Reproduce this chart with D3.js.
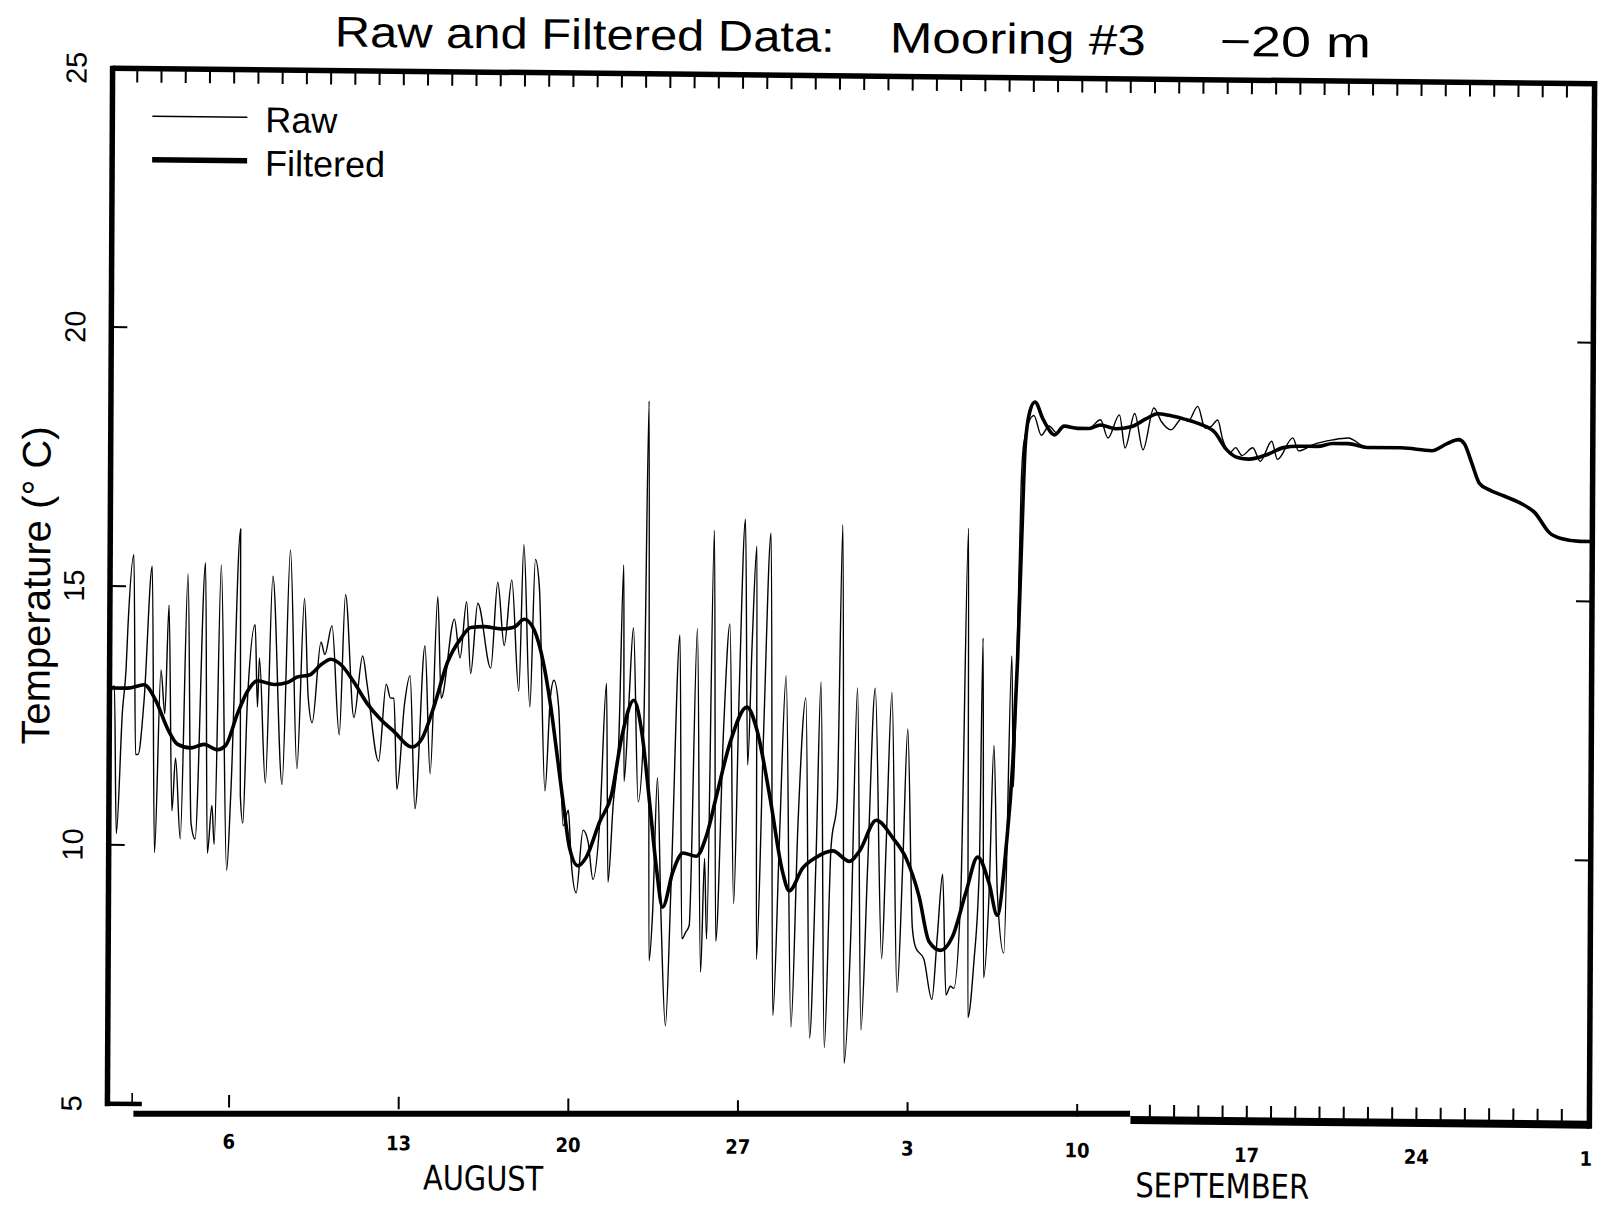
<!DOCTYPE html>
<html>
<head>
<meta charset="utf-8">
<script src="https://cdn.jsdelivr.net/npm/d3@7"></script>
<style>
  html, body { margin: 0; padding: 0; background: #fff; }
  svg { display: block; }
</style>
</head>
<body>
<script>
// ---------------- data ----------------
// day = days after 1 August (00:00), temp = degrees C
const rawDay = [0.0,0.18,0.29,0.52,0.66,0.73,0.96,1.07,1.17,1.41,1.72,1.87,2.10,2.27,2.42,2.58,2.72,2.93,3.20,3.37,3.54,3.92,4.05,4.23,4.33,4.57,4.85,5.01,5.36,5.40,5.51,5.67,5.98,6.09,6.16,6.43,6.70,7.12,7.42,7.73,8.01,8.18,8.35,8.70,8.86,9.15,9.47,9.70,10.07,10.42,10.62,11.10,11.40,11.58,11.72,11.86,12.16,12.38,12.61,12.99,13.23,13.51,13.67,14.20,14.44,14.70,14.88,15.16,15.71,15.98,16.26,16.56,16.87,17.05,17.33,17.53,17.70,17.97,18.18,18.32,18.52,18.73,18.94,19.07,19.28,19.55,19.76,19.97,20.24,20.49,20.59,20.79,21.00,21.18,21.23,21.41,21.59,21.82,22.03,22.19,22.30,22.44,22.61,22.78,22.99,23.20,23.51,23.65,23.81,23.95,24.23,24.43,24.57,24.67,24.91,25.05,25.33,25.57,25.78,25.97,26.19,26.33,26.49,26.67,26.73,26.98,27.25,27.42,27.66,27.90,28.17,28.42,28.72,28.94,29.17,29.34,29.55,29.79,30.03,30.21,30.37,30.62,30.85,31.06,31.30,31.58,31.90,32.06,32.27,32.54,32.75,32.93,33.16,33.30,33.64,33.98,34.19,34.40,34.56,34.74,34.88,35.15,35.40,35.47,35.70,35.91,36.02,36.11,36.32,36.49,36.66,36.94,37.21,37.30,37.42,37.56,37.67,38.07,38.38,38.70,39.01,39.32,39.88,40.35,40.82,41.13,41.60,41.84,42.23,42.58,43.02,43.33,43.73,44.20,44.44,44.83,45.14,45.38,45.66,45.85,46.17,46.40,46.67,47.11,47.42,47.89,48.13,48.76,49.00,49.63,50.41,51.04,51.83,53.24,54.50,55.13,55.60,55.84,56.15,56.47,56.86,57.49,58.27,58.75,59.37,59.85,60.63,61.10];
const rawTemp = [13.0,13.07,10.22,12.59,13.40,14.22,15.61,11.75,11.75,12.80,15.39,9.86,13.39,12.54,14.64,10.67,11.69,10.13,15.25,10.44,10.13,15.47,9.86,10.78,10.03,15.43,9.53,11.05,16.13,10.99,10.45,12.76,14.28,12.69,13.64,11.23,15.22,11.20,15.73,11.51,14.80,12.90,12.40,13.96,13.72,14.28,12.17,14.88,12.51,13.70,13.12,11.67,13.16,12.89,12.89,11.13,12.79,13.33,10.76,13.91,11.44,14.86,12.90,14.43,13.68,14.77,13.38,14.74,13.49,15.15,13.93,15.20,13.05,15.88,12.75,15.60,15.06,11.13,12.96,13.27,12.75,10.46,10.76,9.77,9.17,10.38,10.16,9.43,10.55,13.22,9.38,10.89,12.02,15.51,11.33,12.79,14.30,10.94,12.27,18.68,7.87,8.82,11.41,8.82,6.62,9.43,14.17,8.30,8.43,8.56,14.30,7.66,9.86,8.30,16.20,8.26,12.36,14.39,8.99,13.14,16.42,11.67,14.00,15.90,7.92,12.27,16.16,6.84,10.29,13.40,6.62,10.55,12.98,6.41,9.86,13.29,6.23,10.12,10.98,16.33,5.93,8.39,13.18,6.58,9.69,13.18,7.96,10.12,13.10,7.31,9.77,12.40,8.56,8.18,7.96,7.18,8.39,9.60,7.27,7.44,7.40,9.17,16.29,6.84,7.87,9.69,14.17,7.61,9.25,12.10,9.25,8.09,13.83,11.30,13.66,17.15,17.98,18.48,18.10,18.28,18.15,18.29,18.25,18.25,18.41,18.06,18.51,17.87,18.54,17.84,18.65,18.39,18.23,18.46,18.40,18.69,18.27,18.30,18.43,18.08,17.80,17.90,17.75,17.90,17.64,18.03,17.68,18.10,17.85,17.98,18.07,18.11,17.93,17.93,17.88,18.02,18.10,18.02,17.65,17.26,17.14,17.02,16.86,16.71,16.32,16.21,16.16,16.16];

const filtDay = [0.0,0.73,1.41,1.89,2.38,2.79,3.34,3.89,4.44,4.78,5.26,5.67,6.09,6.77,7.32,7.73,8.22,8.70,9.11,9.52,10.07,10.62,11.17,11.72,12.48,12.89,13.37,13.92,14.47,14.88,15.43,16.12,16.67,17.08,17.49,17.90,18.18,18.50,18.73,19.00,19.35,19.69,20.24,20.72,21.13,21.62,21.96,22.30,22.58,22.85,23.27,23.68,24.23,24.64,25.05,25.60,26.29,26.70,27.25,27.80,28.07,28.62,29.17,29.86,30.55,30.96,31.65,32.34,32.89,33.43,33.85,34.33,34.81,35.36,35.84,36.32,36.66,37.01,37.28,37.45,37.60,37.72,37.90,38.11,38.46,38.93,39.32,39.88,40.35,40.82,41.45,42.08,42.71,43.18,43.65,44.28,44.91,45.54,46.01,46.48,46.95,47.74,48.37,49.00,49.78,50.41,51.04,51.83,53.24,54.50,55.13,55.60,55.84,56.15,56.47,56.86,57.49,58.27,58.75,59.37,59.85,60.63,61.10];
const filtTemp = [13.03,13.03,13.10,12.80,12.26,11.96,11.89,11.96,11.86,11.94,12.55,12.99,13.20,13.13,13.17,13.28,13.32,13.52,13.63,13.53,13.19,12.78,12.48,12.25,11.95,12.12,12.73,13.59,14.06,14.27,14.29,14.25,14.29,14.44,14.24,13.56,12.80,11.70,10.89,10.03,9.69,9.86,10.55,11.07,12.19,12.90,12.27,10.89,9.69,8.91,9.60,9.96,9.90,10.29,11.07,12.10,12.79,12.36,11.07,9.60,9.25,9.69,9.90,10.03,9.83,10.03,10.63,10.29,9.90,9.17,8.30,8.13,8.39,9.25,9.94,9.43,8.82,10.12,11.85,13.80,16.20,17.90,18.55,18.74,18.40,18.11,18.28,18.24,18.24,18.31,18.24,18.28,18.44,18.54,18.51,18.44,18.35,18.19,17.87,17.71,17.68,17.78,17.91,17.94,17.94,18.00,18.00,17.93,17.93,17.88,18.02,18.10,18.02,17.65,17.26,17.14,17.02,16.86,16.71,16.32,16.21,16.16,16.16];

const yTickValues = [5, 10, 15, 20, 25];
const yInnerTicks = [10, 15, 20];
const titleParts = ["Raw and Filtered Data:", "Mooring #3", "\u221220 m"];
const legendLabels = ["Raw", "Filtered"];
const monthNames = ["AUGUST", "SEPTEMBER"];
const yLabel = "Temperature (\u00b0 C)";

// ---------------- layout ----------------
const W = 1598, H = 1206;
const DAY = 864e5;
const base = Date.UTC(1990, 7, 1);           // 1 August
const toDate = d => new Date(base + d * DAY);
const L = 110, R = 1592, T = 76, B = 1111.5;
const splitDay = 42.2;                        // where the lower axis strip changes

const x = d3.scaleUtc().domain([toDate(-0.02), toDate(61.14)]).range([L, R]);
const y = d3.scaleLinear().domain([5, 25]).range([B, T]);

const svg = d3.select("body").append("svg").attr("width", W).attr("height", H);
svg.append("rect").attr("width", W).attr("height", H).attr("fill", "#fff");

// the scanned page is slightly tilted: reproduce with a small affine transform
const kx = 0.005, ky = 0.0105, cx = 851, cy = 595;
const g = svg.append("g").attr("transform", `matrix(1,${ky},${-kx},1,${kx * cy},${-ky * cx})`);

const sans = "'Liberation Sans', Arial, 'DejaVu Sans', sans-serif";
const narrow = "'Liberation Sans Narrow', 'Arial Narrow', 'DejaVu Sans Condensed', 'Liberation Sans', sans-serif";

// ---------------- title ----------------
const titleX = [332, 887, 1217], titleW = [500, 256, 151];
g.selectAll("text.title").data(titleParts).join("text")
  .attr("class", "title")
  .attr("x", (d, i) => titleX[i]).attr("y", 52)
  .attr("textLength", (d, i) => titleW[i]).attr("lengthAdjust", "spacingAndGlyphs")
  .attr("font-family", sans).attr("font-size", 43).attr("fill", "#000")
  .text(d => d);

// ---------------- data lines ----------------
const raw = rawDay.map((d, i) => ({ t: toDate(d), v: rawTemp[i] }));
const filt = filtDay.map((d, i) => ({ t: toDate(d), v: filtTemp[i] }));
const line = d3.line().x(d => x(d.t)).y(d => y(d.v)).curve(d3.curveMonotoneX);

g.append("path").datum(raw).attr("d", line)
  .attr("fill", "none").attr("stroke", "#000").attr("stroke-width", 1.4).attr("stroke-linejoin", "round");
g.append("path").datum(filt).attr("d", line)
  .attr("fill", "none").attr("stroke", "#000").attr("stroke-width", 3.6).attr("stroke-linejoin", "round");

// ---------------- frame ----------------
const stroke = (sel, w) => sel.attr("stroke", "#000").attr("stroke-width", w).attr("fill", "none");
stroke(g.append("line").attr("x1", L).attr("x2", R + 2.5).attr("y1", T).attr("y2", T), 5.5);
stroke(g.append("line").attr("x1", L).attr("x2", L).attr("y1", T - 2.5).attr("y2", B + 2.5), 5.5);
stroke(g.append("line").attr("x1", R).attr("x2", R).attr("y1", T - 2.5).attr("y2", 1121), 5.5);
stroke(g.append("line").attr("x1", L).attr("x2", x(toDate(1.4))).attr("y1", B).attr("y2", B), 4.5);

// top daily ticks
const allDays = d3.utcDay.range(toDate(0.5), toDate(60.9));
g.selectAll("line.topTick").data(allDays).join("line").attr("class", "topTick")
  .attr("x1", d => x(d)).attr("x2", d => x(d)).attr("y1", T).attr("y2", T + 14)
  .attr("stroke", "#000").attr("stroke-width", 2);

// left / right temperature ticks
g.selectAll("line.lTick").data(yInnerTicks).join("line").attr("class", "lTick")
  .attr("x1", L).attr("x2", L + 16).attr("y1", d => y(d)).attr("y2", d => y(d))
  .attr("stroke", "#000").attr("stroke-width", 2);
g.selectAll("line.rTick").data(yInnerTicks).join("line").attr("class", "rTick")
  .attr("x1", R).attr("x2", R - 16).attr("y1", d => y(d)).attr("y2", d => y(d))
  .attr("stroke", "#000").attr("stroke-width", 2);

// y tick labels (rotated)
g.selectAll("text.yLab").data(yTickValues).join("text").attr("class", "yLab")
  .attr("x", 74).attr("y", d => y(d))
  .attr("transform", d => `rotate(-90,74,${y(d)})`)
  .attr("text-anchor", "middle").attr("dominant-baseline", "central")
  .attr("font-family", sans).attr("font-size", 29).attr("fill", "#000")
  .text(d => d);

// y axis title
g.append("text").attr("x", 50).attr("y", 594)
  .attr("transform", "rotate(-90,50,594)")
  .attr("text-anchor", "middle")
  .attr("font-family", sans).attr("font-size", 40).attr("fill", "#000")
  .text(yLabel);

// ---------------- lower time axis ----------------
// left strip (flat on the page)
svg.append("line").attr("x1", x(toDate(1.07)) - 3).attr("x2", x(toDate(splitDay)) - 3)
  .attr("y1", 1113.7).attr("y2", 1113.7).attr("stroke", "#000").attr("stroke-width", 6);
// small tick near 2 Aug
stroke(g.append("line").attr("x1", x(toDate(1))).attr("x2", x(toDate(1))).attr("y1", B - 11).attr("y2", B), 1.6);

const mondays = d3.utcMonday.range(toDate(0), toDate(61.5));
const weekLeft = mondays.filter(d => d < toDate(splitDay));
g.selectAll("line.wTick").data(weekLeft).join("line").attr("class", "wTick")
  .attr("x1", d => x(d)).attr("x2", d => x(d)).attr("y1", 1101.5).attr("y2", 1114)
  .attr("stroke", "#000").attr("stroke-width", 2);

// right strip with daily ticks
stroke(g.append("line").attr("x1", x(toDate(splitDay))).attr("x2", R).attr("y1", 1117).attr("y2", 1117), 8);
const rightDays = d3.utcDay.range(toDate(splitDay + 0.5), toDate(60.9));
g.selectAll("line.dTick").data(rightDays).join("line").attr("class", "dTick")
  .attr("x1", d => x(d)).attr("x2", d => x(d)).attr("y1", 1101.5).attr("y2", 1114)
  .attr("stroke", "#000").attr("stroke-width", 2);

// week labels
const fmtDay = d3.utcFormat("%-d");
g.selectAll("text.xLab").data(mondays).join("text").attr("class", "xLab")
  .attr("x", d => x(d)).attr("y", d => d < toDate(splitDay) ? 1155 : 1158)
  .attr("text-anchor", "middle")
  .attr("font-family", narrow).attr("font-weight", "bold").attr("font-size", 20).attr("fill", "#000")
  .text(d => fmtDay(d));

// month labels
const monthCenters = [toDate(15.5), toDate(46.0)];
const monthWidths = [120, 174];
g.selectAll("text.month").data(monthNames).join("text").attr("class", "month")
  .attr("x", (d, i) => x(monthCenters[i]) - monthWidths[i] / 2).attr("y", 1194)
  .attr("textLength", (d, i) => monthWidths[i]).attr("lengthAdjust", "spacingAndGlyphs")
  .attr("font-family", narrow).attr("font-size", 34).attr("fill", "#000")
  .text(d => d);

// ---------------- legend ----------------
stroke(g.append("line").attr("x1", 150).attr("x2", 245).attr("y1", 123.5).attr("y2", 123.5), 1.5);
stroke(g.append("line").attr("x1", 150).attr("x2", 245).attr("y1", 167).attr("y2", 167), 5.5);
g.selectAll("text.leg").data(legendLabels).join("text").attr("class", "leg")
  .attr("x", 263).attr("y", (d, i) => i === 0 ? 138.5 : 182)
  .attr("font-family", sans).attr("font-size", 36).attr("fill", "#000")
  .text(d => d);
</script>
</body>
</html>
